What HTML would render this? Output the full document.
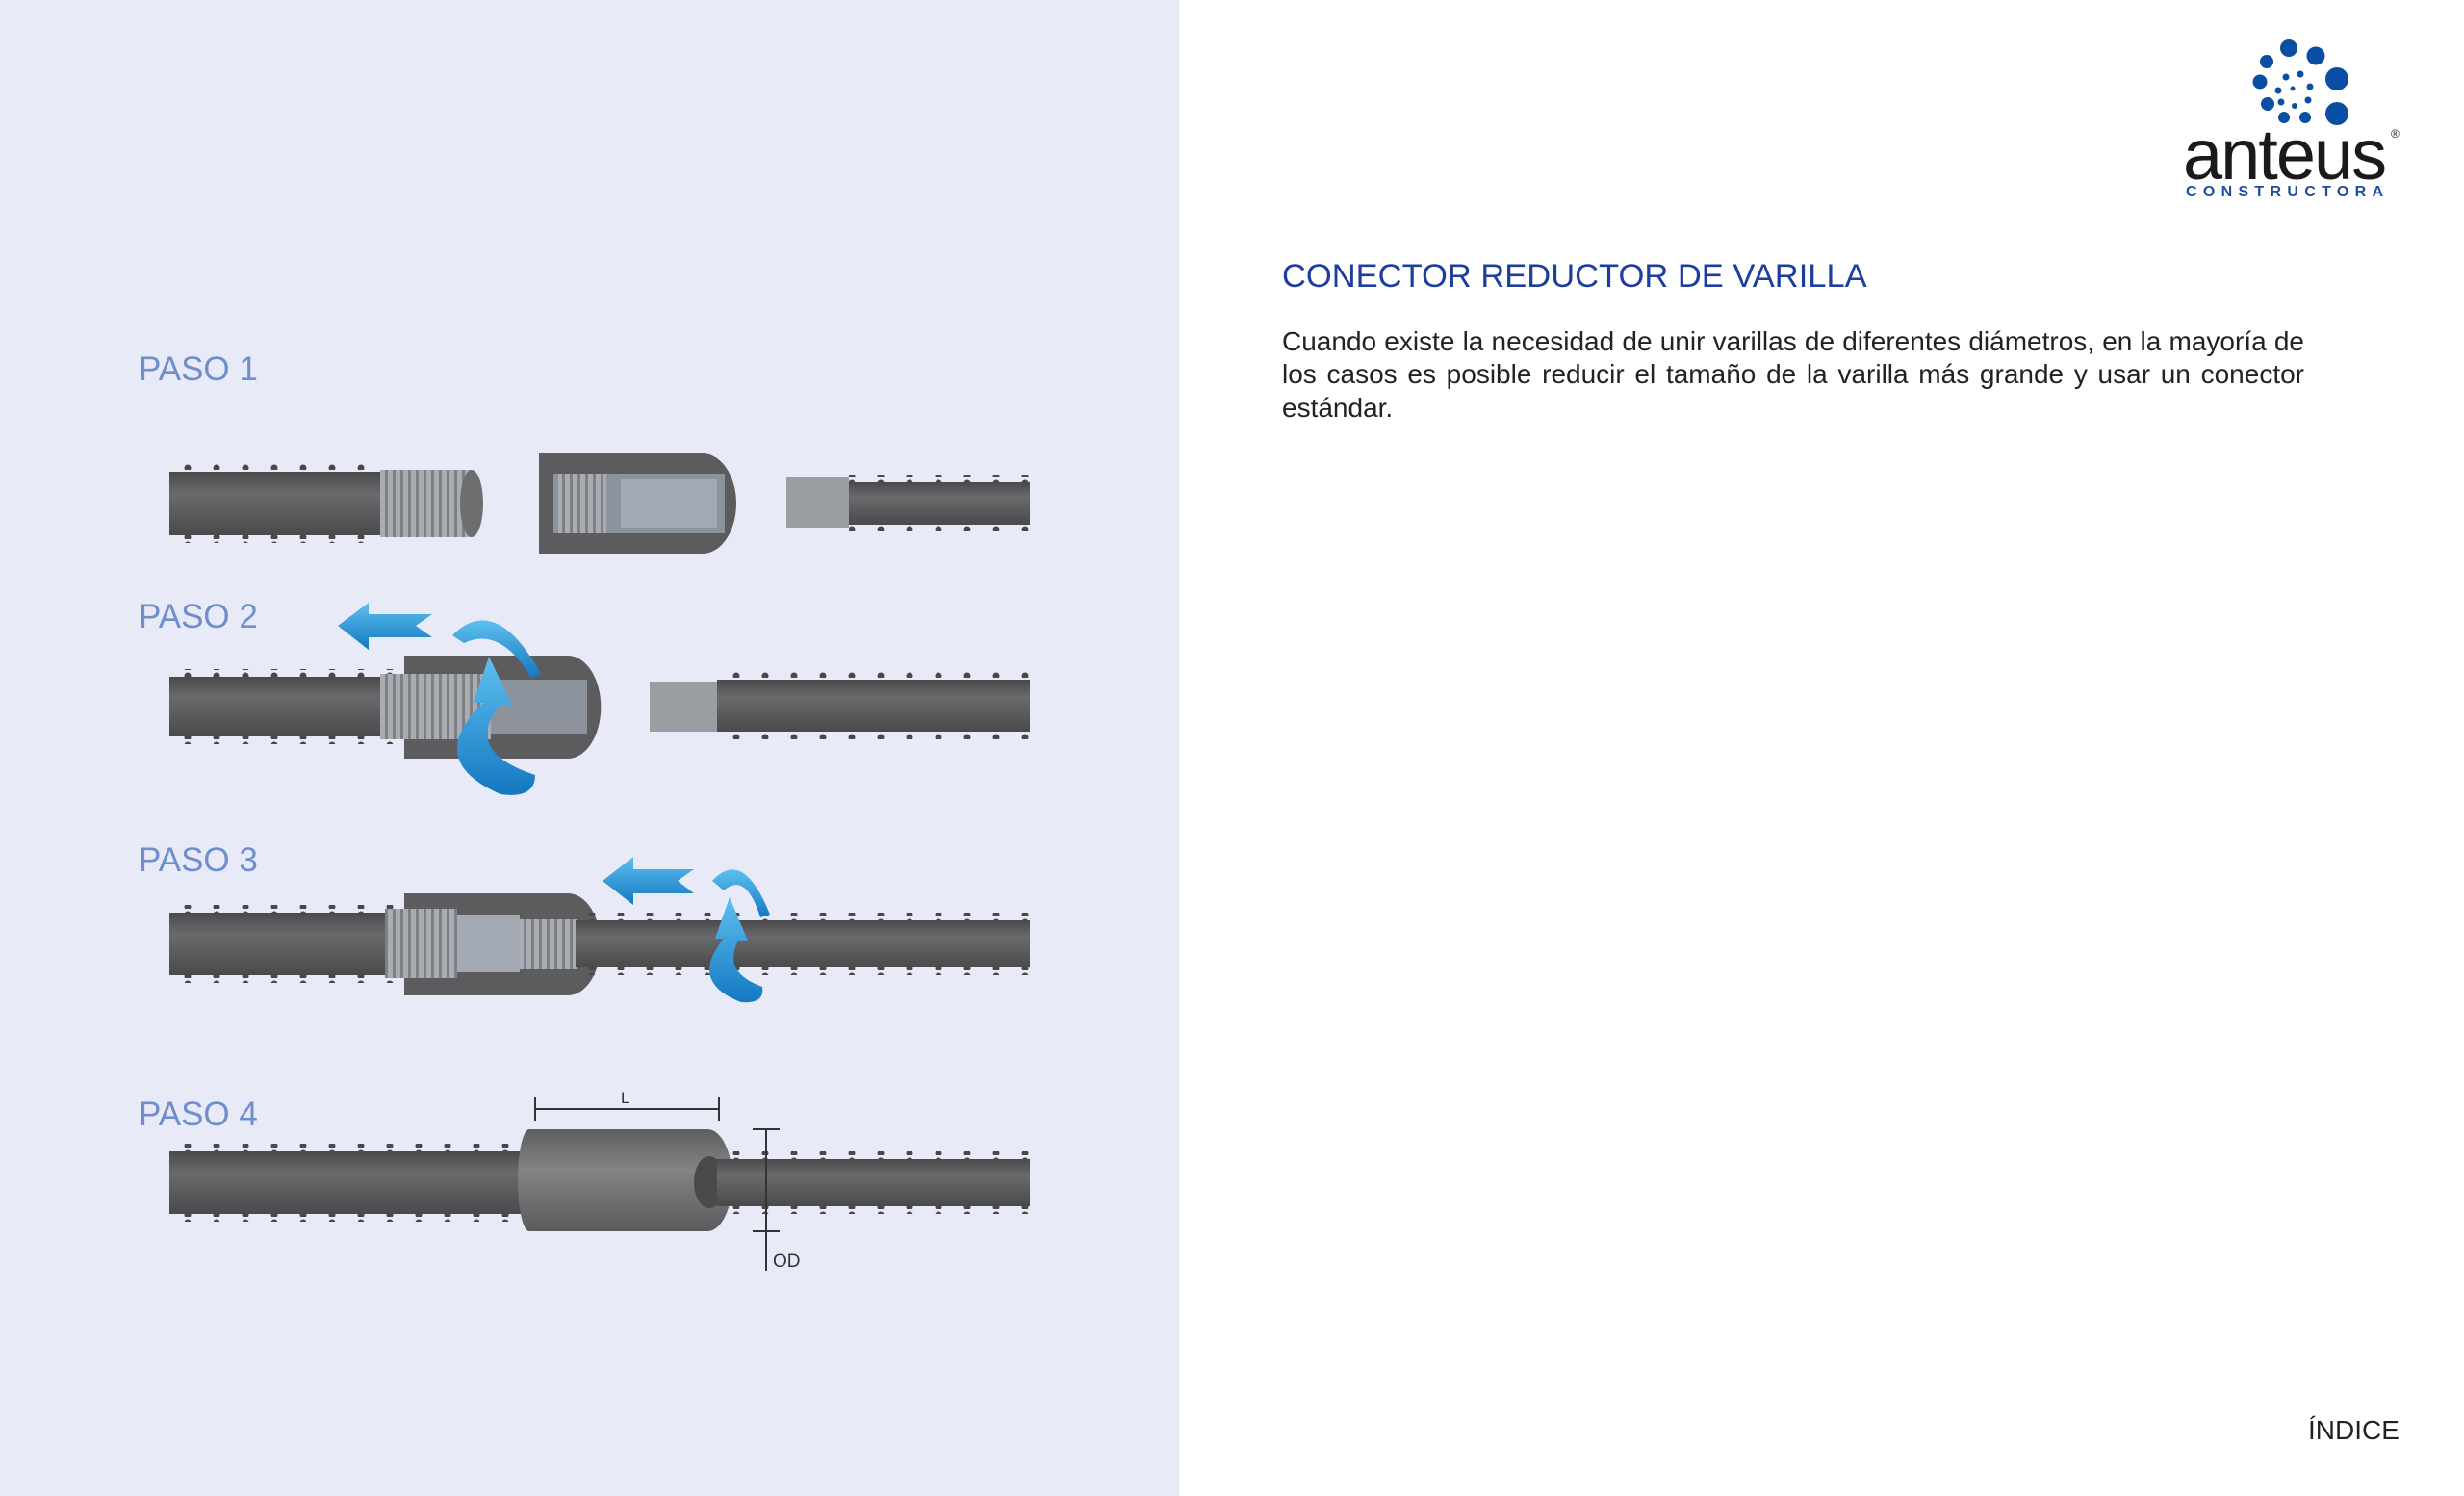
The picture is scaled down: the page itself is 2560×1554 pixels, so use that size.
<!DOCTYPE html>
<html><head><meta charset="utf-8"><style>
html,body{margin:0;padding:0;}
body{width:2560px;height:1554px;position:relative;background:#fff;font-family:"Liberation Sans",Arial,sans-serif;overflow:hidden;}
#panel{position:absolute;left:0;top:0;width:1225px;height:1554px;background:#e8eaf7;}
.paso{position:absolute;left:144px;font-size:35px;color:#6f8fcc;line-height:1;}
#title{position:absolute;left:1332px;top:268px;font-size:34.5px;color:#1e3e9e;white-space:nowrap;}
#body{position:absolute;left:1332px;top:338px;width:1062px;font-size:28px;line-height:34.3px;color:#222;text-align:justify;}
#indice{position:absolute;left:2398px;top:1470px;font-size:28px;color:#222;}
#anteus{position:absolute;left:2268px;top:118px;font-size:74px;color:#1a1a1a;letter-spacing:-2px;}
#constr{position:absolute;left:2271px;top:191px;font-size:16px;color:#1d4f9c;letter-spacing:6.3px;font-weight:bold;}
#reg{position:absolute;left:2484px;top:132px;font-size:12px;color:#222;}
</style></head><body>
<div id="panel"></div>
<svg width="2560" height="1554" style="position:absolute;left:0;top:0">
<defs>
<pattern id="ribT" x="0" y="0" width="30" height="8" patternUnits="userSpaceOnUse"><circle cx="15" cy="6" r="3.5" fill="#48484a"/></pattern>
<linearGradient id="rod" x1="0" y1="0" x2="0" y2="1"><stop offset="0" stop-color="#4a4a4c"/><stop offset="0.35" stop-color="#6a6a6c"/><stop offset="1" stop-color="#4a4a4c"/></linearGradient>
<linearGradient id="con" x1="0" y1="0" x2="0" y2="1"><stop offset="0" stop-color="#5e5e60"/><stop offset="0.4" stop-color="#848486"/><stop offset="1" stop-color="#5a5a5c"/></linearGradient>
<pattern id="thr" x="0" y="0" width="8" height="10" patternUnits="userSpaceOnUse"><rect width="8" height="10" fill="#a9adb2"/><rect width="3" height="10" fill="#7d8187"/></pattern>
<linearGradient id="blue" x1="0" y1="0" x2="0" y2="1"><stop offset="0" stop-color="#5ec0ee"/><stop offset="1" stop-color="#1478c2"/></linearGradient>
</defs>
<!-- PASO 1 -->
<rect x="176" y="482" width="220" height="8" fill="url(#ribT)"/><rect x="176" y="556" width="220" height="8" fill="url(#ribT)"/>
<rect x="176" y="490" width="220" height="66" fill="url(#rod)"/>
<rect x="395" y="488" width="95" height="70" fill="url(#thr)"/>
<ellipse cx="490" cy="523" rx="12" ry="35" fill="#6e6e70"/>
<path d="M560 471 H730 A35 52 0 0 1 730 575 H560 Z" fill="#5c5c5e"/>
<rect x="575" y="492" width="178" height="62" fill="#8c939c"/>
<rect x="580" y="492" width="50" height="62" fill="url(#thr)"/>
<rect x="645" y="498" width="100" height="50" fill="#a3aab3"/>
<rect x="817" y="496" width="65" height="52" fill="#9a9ea2"/>
<rect x="882" y="493" width="188" height="8" fill="url(#ribT)"/><rect x="882" y="545" width="188" height="8" fill="url(#ribT)"/>
<rect x="882" y="501" width="188" height="44" fill="url(#rod)"/>
<!-- PASO 2 -->
<rect x="176" y="695" width="240" height="8" fill="url(#ribT)"/><rect x="176" y="765" width="240" height="8" fill="url(#ribT)"/>
<rect x="176" y="703" width="240" height="62" fill="url(#rod)"/>
<path d="M420 681 H590 A34 53 0 0 1 590 788 H420 Z" fill="#5c5c5e"/>
<rect x="395" y="700" width="115" height="68" fill="url(#thr)"/>
<rect x="510" y="706" width="100" height="56" fill="#8c939c"/>
<rect x="675" y="708" width="70" height="52" fill="#9a9ea2"/>
<rect x="745" y="698" width="325" height="8" fill="url(#ribT)"/><rect x="745" y="760" width="325" height="8" fill="url(#ribT)"/>
<rect x="745" y="706" width="325" height="54" fill="url(#rod)"/>
<polygon points="351,650 383,626 383,638 449,638 432,650 449,662 383,662 383,675" fill="url(#blue)"/>
<path d="M470 660 Q515 615 562 700 L552 704 Q520 650 482 668 Z" fill="url(#blue)"/>
<path d="M508 682 L492 730 L502 730 Q440 790 520 825 Q556 830 556 805 Q480 780 520 732 L532 732 Z" fill="url(#blue)"/>
<!-- PASO 3 -->
<rect x="176" y="940" width="240" height="8" fill="url(#ribT)"/><rect x="176" y="1013" width="240" height="8" fill="url(#ribT)"/>
<rect x="176" y="948" width="240" height="65" fill="url(#rod)"/>
<path d="M420 928 H590 A34 53 0 0 1 590 1034 H420 Z" fill="#5c5c5e"/>
<rect x="400" y="944" width="75" height="72" fill="url(#thr)"/>
<rect x="475" y="950" width="65" height="60" fill="#a3aab3"/>
<rect x="540" y="955" width="60" height="52" fill="url(#thr)"/>
<rect x="598" y="948" width="472" height="8" fill="url(#ribT)"/><rect x="598" y="1005" width="472" height="8" fill="url(#ribT)"/>
<rect x="598" y="956" width="472" height="49" fill="url(#rod)"/>
<polygon points="626,915 658,890 658,903 721,903 704,915 721,928 658,928 658,940" fill="url(#blue)"/>
<path d="M740 915 Q772 880 800 950 L790 953 Q775 905 752 925 Z" fill="url(#blue)"/>
<path d="M758 932 L743 975 L752 975 Q715 1020 770 1041 Q795 1043 792 1025 Q750 1010 767 977 L777 977 Z" fill="url(#blue)"/>
<!-- PASO 4 -->
<rect x="176" y="1188" width="370" height="8" fill="url(#ribT)"/><rect x="176" y="1261" width="370" height="8" fill="url(#ribT)"/>
<rect x="176" y="1196" width="370" height="65" fill="url(#rod)"/>
<path d="M550 1173 H735 A26 53 0 0 1 735 1279 H550 A12 53 0 0 1 550 1173 Z" fill="url(#con)"/>
<ellipse cx="737" cy="1228" rx="16" ry="27" fill="#4a4a4c"/>
<rect x="743" y="1196" width="327" height="8" fill="url(#ribT)"/><rect x="743" y="1253" width="327" height="8" fill="url(#ribT)"/>
<rect x="745" y="1204" width="325" height="49" fill="url(#rod)"/>
<g stroke="#333" stroke-width="2" fill="none">
<line x1="556" y1="1152" x2="747" y2="1152"/><line x1="556" y1="1140" x2="556" y2="1164"/><line x1="747" y1="1140" x2="747" y2="1164"/>
<line x1="796" y1="1173" x2="796" y2="1320"/><line x1="782" y1="1173" x2="810" y2="1173"/><line x1="782" y1="1279" x2="810" y2="1279"/>
</g>
<text x="645" y="1146" font-family="Liberation Sans" font-size="17" fill="#333">L</text>
<text x="803" y="1316" font-family="Liberation Sans" font-size="19" fill="#333">OD</text>
<!-- logo dots -->
<g fill="#0a4fa3" transform="translate(-30,0)">
<circle cx="2408" cy="50" r="9"/><circle cx="2436" cy="58" r="9.5"/><circle cx="2385" cy="64" r="7"/>
<circle cx="2458" cy="82" r="12"/><circle cx="2378" cy="85" r="7.5"/><circle cx="2386" cy="108" r="7"/>
<circle cx="2458" cy="118" r="12"/><circle cx="2403" cy="122" r="6"/><circle cx="2425" cy="122" r="6"/>
<circle cx="2405" cy="80" r="3.5"/><circle cx="2420" cy="77" r="3.5"/><circle cx="2430" cy="90" r="3.5"/>
<circle cx="2397" cy="94" r="3.5"/><circle cx="2412" cy="92" r="2.5"/><circle cx="2400" cy="106" r="3.5"/>
<circle cx="2428" cy="104" r="3.5"/><circle cx="2414" cy="110" r="3"/>
</g>
</svg>
<div class="paso" style="top:366px">PASO 1</div>
<div class="paso" style="top:623px">PASO 2</div>
<div class="paso" style="top:876px">PASO 3</div>
<div class="paso" style="top:1140px">PASO 4</div>
<div id="anteus">anteus</div>
<div id="reg">®</div>
<div id="constr">CONSTRUCTORA</div>
<div id="title">CONECTOR REDUCTOR DE VARILLA</div>
<div id="body">Cuando existe la necesidad de unir varillas de diferentes diámetros, en la mayoría de los casos es posible reducir el tamaño de la varilla más grande y usar un conector estándar.</div>
<div id="indice">ÍNDICE</div>
</body></html>
